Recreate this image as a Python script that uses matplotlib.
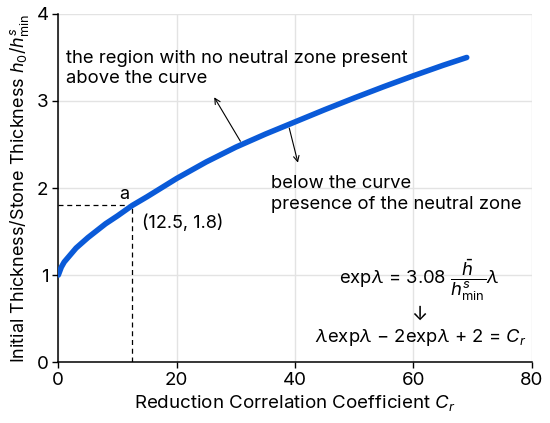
import matplotlib.pyplot as plt

plt.rcParams['font.family'] = ['Inter', 'DejaVu Sans']
plt.rcParams['mathtext.fontset'] = 'custom'
plt.rcParams['mathtext.rm'] = 'Inter'
plt.rcParams['mathtext.it'] = 'Inter:italic'

# values
cr = [0, 0.5, 1, 2, 3, 4, 5, 6.5, 8, 10, 12.5, 15, 17.5, 20, 25, 30,
      35, 40, 45, 50, 55, 60, 65, 69]
ratio = [1.00, 1.09, 1.15, 1.23, 1.31, 1.37, 1.43, 1.51, 1.59, 1.68, 1.80,
         1.90, 2.005, 2.11, 2.30, 2.47, 2.62, 2.76, 2.90, 3.035, 3.165, 3.29,
         3.41, 3.50]
point_a = (12.5, 1.8)
xticks = [0, 20, 40, 60, 80]
yticks = [0, 1, 2, 3, 4]

fig, ax = plt.subplots(figsize=(5.5, 4.23), dpi=100)
fig.subplots_adjust(left=0.106, right=0.967, top=0.967, bottom=0.144)

ax.plot(cr, ratio, color='#0a5ad8', lw=4, solid_capstyle='round',
        solid_joinstyle='round', zorder=3)

ax.plot([0, point_a[0]], [point_a[1], point_a[1]], 'k--', lw=0.9, dashes=(4, 3))
ax.plot([point_a[0], point_a[0]], [0, point_a[1]], 'k--', lw=0.9, dashes=(4, 3))
ax.text(11.1, 1.92, 'a', fontsize=13, ha='center', va='center')
ax.text(14.2, 1.6, '(12.5, 1.8)', fontsize=13, ha='left', va='center')

ax.annotate('', xy=(26.1, 3.07), xytext=(31.0, 2.51),
            arrowprops=dict(arrowstyle='->', lw=0.8, color='k'))
ax.annotate('', xy=(40.6, 2.26), xytext=(38.9, 2.72),
            arrowprops=dict(arrowstyle='->', lw=0.8, color='k'))
ax.text(1.3, 3.37, 'the region with no neutral zone present\nabove the curve',
        fontsize=13.3, ha='left', va='center', linespacing=1.2)
ax.text(36.0, 1.93, 'below the curve\npresence of the neutral zone',
        fontsize=13.3, ha='left', va='center', linespacing=1.25)

ax.text(60.9, 0.94, r'exp$\lambda$ = 3.08 $\dfrac{\bar{h}}{h^{s}_{\rm min}}\lambda$',
        fontsize=13.3, ha='center', va='center')
ax.text(60.9, 0.54, '\u2193', fontsize=14, ha='center', va='center')
ax.text(61.2, 0.28, r'$\lambda$exp$\lambda$ ' + '\u2212' + r' 2exp$\lambda$ + 2 = $C_r$',
        fontsize=13.3, ha='center', va='center')

ax.set_xlim(0, 80)
ax.set_ylim(0, 4)
ax.set_xticks(xticks)
ax.set_yticks(yticks)
ax.tick_params(labelsize=13.5, length=4, width=1, pad=3)
ax.grid(color='#e3e3e3', lw=1)
ax.set_axisbelow(True)
for s in ['top', 'right']:
    ax.spines[s].set_visible(False)
for s in ['left', 'bottom']:
    ax.spines[s].set_linewidth(1.1)

ax.set_xlabel('Reduction Correlation Coefficient $C_r$', fontsize=13.5, labelpad=3)
ax.set_ylabel(r'Initial Thickness/Stone Thickness $h_0/h^{s}_{\rm min}$',
              fontsize=13, labelpad=4)

fig.savefig('out.png', dpi=100)
